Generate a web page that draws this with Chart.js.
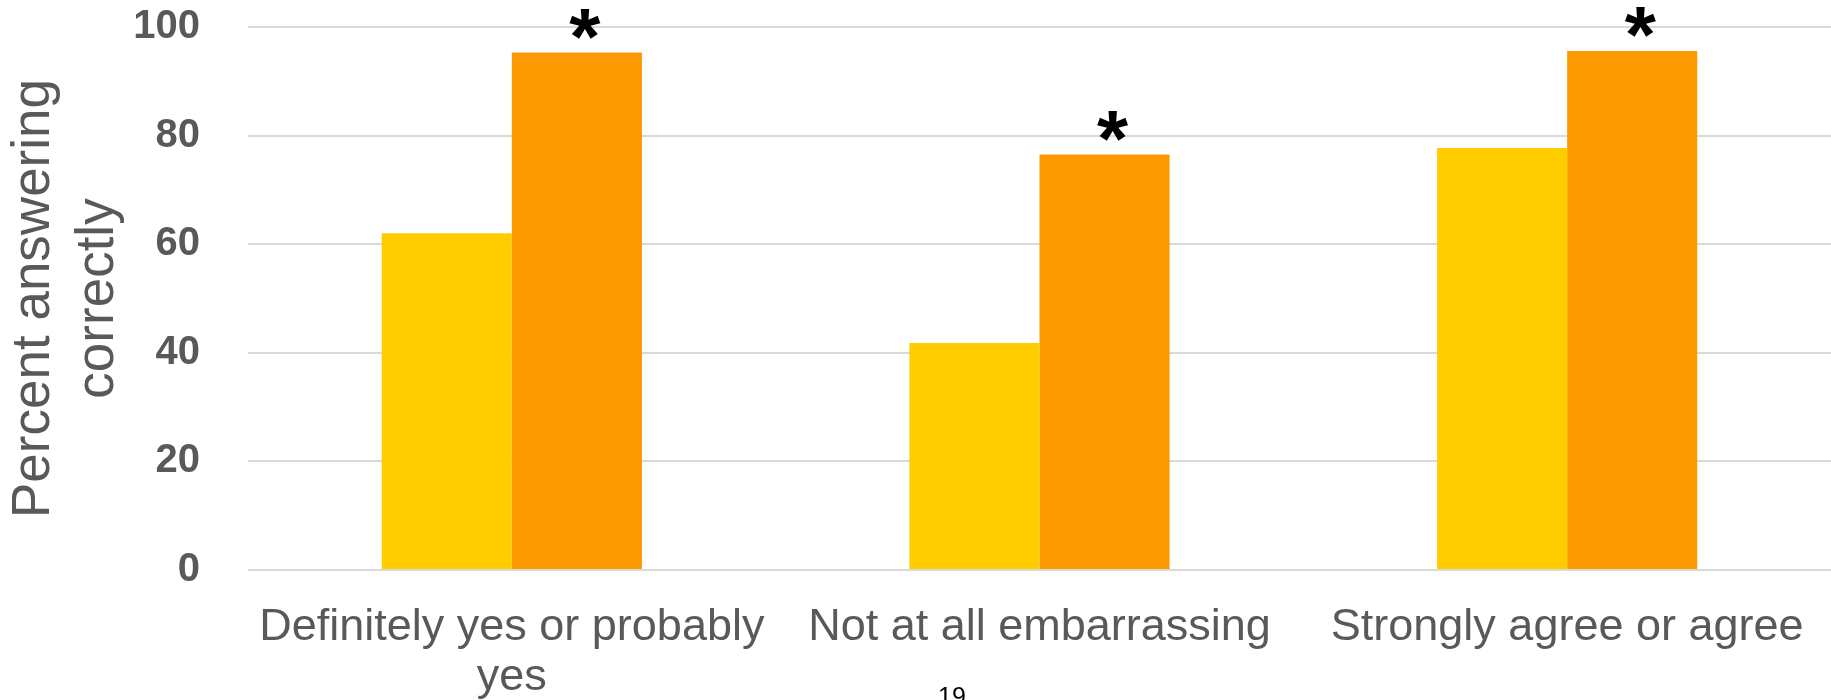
<!DOCTYPE html>
<html lang="en">

<head>
    <meta charset="UTF-8">
    <meta name="viewport" content="width=device-width, initial-scale=1.0">
    <title>Percent answering correctly</title>
    <style>
        body {
            margin: 0;
            background: #fff;
        }

        #myChart {
            display: block;
        }
    </style>
</head>

<body>

    <canvas id="myChart" width="1831" height="700"></canvas>

    <script src="https://cdn.jsdelivr.net/npm/chart.js"></script>
    <script>
        // X軸項目 (long label split into two lines)
        const categories = [
            ['Definitely yes or probably', 'yes'],
            'Not at all embarrassing',
            'Strongly agree or agree'
        ];
        const group1Values = [62.0, 41.8, 77.7];
        const group2Values = [95.3, 76.5, 95.6];
        // significance marks drawn above the second group's bars
        const group2Marks = ['*', '*', '*'];
        const yTickValues = [0, 20, 40, 60, 80, 100];
        const yTitle = ['Percent answering', 'correctly'];
        const pageNumber = '19';

        const fontFamily = '"Liberation Sans", Arial, sans-serif';
        const grey = '#595959';

        const starPlugin = {
            id: 'stars',
            afterDraw: (chart) => {
                const { ctx } = chart;
                const meta = chart.getDatasetMeta(1);
                ctx.save();
                ctx.fillStyle = '#000';
                ctx.font = 'bold 80px ' + fontFamily;
                ctx.textAlign = 'center';
                ctx.textBaseline = 'alphabetic';
                meta.data.forEach((bar, i) => {
                    const mark = group2Marks[i];
                    if (!mark) return;
                    const m = ctx.measureText(mark);
                    const mid = bar.y - 29;
                    const base = mid + (m.actualBoundingBoxAscent - m.actualBoundingBoxDescent) / 2;
                    ctx.fillText(mark, bar.x + 8, base);
                });
                // slide number, cut by the bottom edge
                ctx.font = '25px ' + fontFamily;
                ctx.fillText(pageNumber, 952, 705);
                ctx.restore();
            }
        };

        let ctx = document.getElementById('myChart').getContext('2d');
        let myBarChart = new Chart(ctx, {
            type: 'bar',
            data: {
                labels: categories,
                datasets: [
                    {
                        data: group1Values,
                        backgroundColor: '#FFCC00',
                        borderWidth: 0,
                        categoryPercentage: 0.493,
                        barPercentage: 1
                    },
                    {
                        data: group2Values,
                        backgroundColor: '#FC9900',
                        borderWidth: 0,
                        categoryPercentage: 0.493,
                        barPercentage: 1
                    }
                ]
            },
            options: {
                responsive: false,
                animation: false,
                layout: {
                    padding: { top: 27, left: 0, right: 0, bottom: 0 }
                },
                plugins: {
                    legend: { display: false },
                    tooltip: { enabled: false }
                },
                scales: {
                    x: {
                        grid: { display: false, drawTicks: false },
                        border: { display: false },
                        ticks: {
                            color: grey,
                            font: { family: fontFamily, size: 45, lineHeight: 1.12 },
                            padding: 32,
                            maxRotation: 0,
                            autoSkip: false
                        },
                        afterFit: (scale) => {
                            scale.height = 130;
                            scale.paddingLeft = 0;
                            scale.paddingRight = 0;
                        }
                    },
                    y: {
                        min: 0,
                        max: 100,
                        afterBuildTicks: (scale) => {
                            scale.ticks = yTickValues.map(v => ({ value: v }));
                        },
                        grid: { color: '#D9D9D9', lineWidth: 2, drawTicks: false },
                        border: { display: false },
                        ticks: {
                            color: grey,
                            font: { family: fontFamily, size: 40, weight: 'bold' },
                            padding: 48
                        },
                        title: {
                            display: true,
                            text: yTitle,
                            color: grey,
                            font: { family: fontFamily, size: 53, lineHeight: 1.2 },
                            padding: { top: 3, bottom: 0 }
                        },
                        afterFit: (scale) => {
                            scale.width = 248;
                            scale.paddingTop = 0;
                            scale.paddingBottom = 0;
                        }
                    }
                }
            },
            plugins: [starPlugin]
        });
    </script>
</body>

</html>
